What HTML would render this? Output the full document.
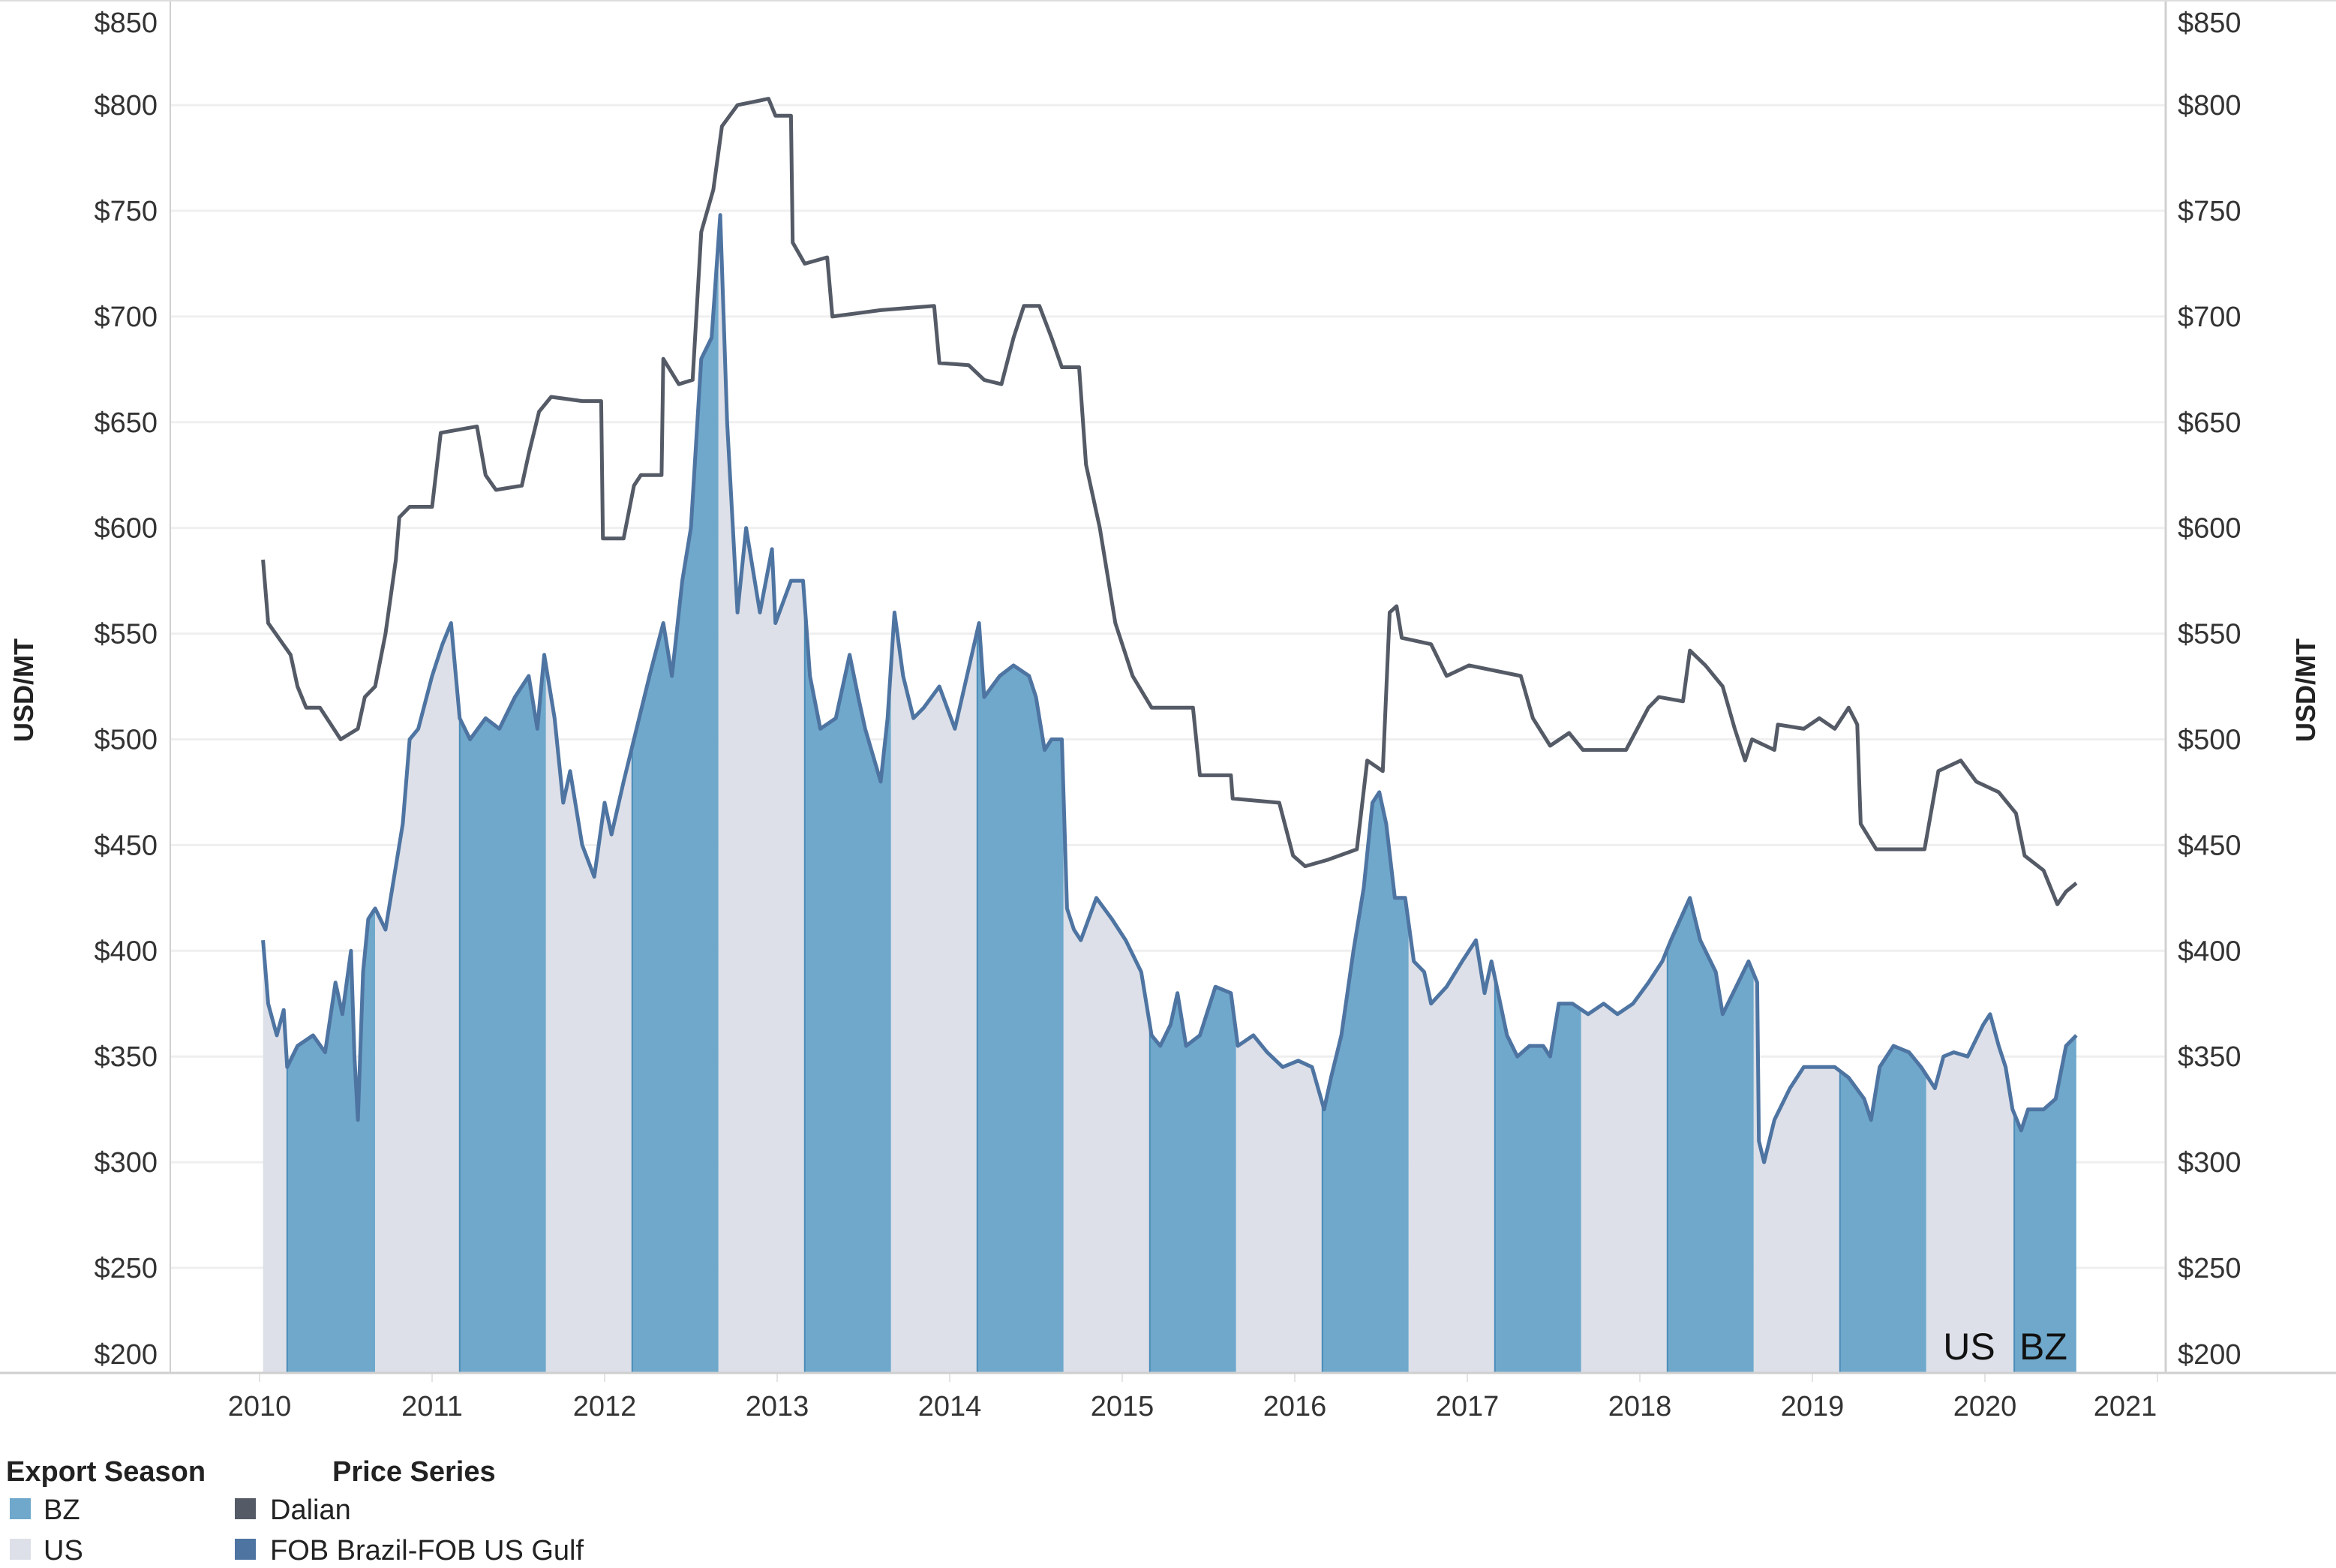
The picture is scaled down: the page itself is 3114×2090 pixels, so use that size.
<!DOCTYPE html>
<html><head><meta charset="utf-8"><style>
html,body{margin:0;padding:0;background:#fff;}
svg{display:block;font-family:"Liberation Sans",sans-serif;}
</style></head><body>
<svg id="chart" width="3114" height="2090" viewBox="0 0 3114 2090">
<defs id="defs"></defs>
<g id="grid"></g>
<g id="bands"></g>
<g id="lines"></g>
<g id="axes"></g>
<text x="2625" y="1812" font-size="50" text-anchor="middle" fill="#111">US</text>
<text x="2724" y="1812" font-size="50" text-anchor="middle" fill="#111">BZ</text>
<text transform="translate(44,920) rotate(-90)" font-size="36" font-weight="bold" text-anchor="middle" fill="#222">USD/MT</text>
<text transform="translate(3086,920) rotate(-90)" font-size="36" font-weight="bold" text-anchor="middle" fill="#222">USD/MT</text>
<g>
<text x="8" y="1974" font-size="38" font-weight="bold" fill="#222">Export Season</text>
<rect x="13" y="1997" width="28" height="28" fill="#6fa8cb"/>
<text x="58" y="2025" font-size="38" fill="#222">BZ</text>
<rect x="13" y="2051" width="28" height="28" fill="#dde0e8"/>
<text x="58" y="2079" font-size="38" fill="#222">US</text>
<text x="443" y="1974" font-size="38" font-weight="bold" fill="#222">Price Series</text>
<rect x="313" y="1997" width="28" height="28" fill="#555b66"/>
<text x="360" y="2025" font-size="38" fill="#222">Dalian</text>
<rect x="313" y="2051" width="28" height="28" fill="#4e74a2"/>
<text x="360" y="2079" font-size="38" fill="#222">FOB Brazil-FOB US Gulf</text>
</g>
</svg>
<script>
const yTicks=[200,250,300,350,400,450,500,550,600,650,700,750,800,850];
const yTickLabels=["$200","$250","$300","$350","$400","$450","$500","$550","$600","$650","$700","$750","$800","$850"];
const years=[2010,2011,2012,2013,2014,2015,2016,2017,2018,2019,2020,2021];
const seasonNames=["US","BZ","US","BZ","US","BZ","US","BZ","US","BZ","US","BZ","US","BZ","US","BZ","US","BZ","US","BZ","US","BZ"];
const seasonStart=[2010.02,2010.16,2010.67,2011.16,2011.66,2012.16,2012.66,2013.16,2013.66,2014.16,2014.66,2015.16,2015.66,2016.16,2016.66,2017.16,2017.66,2018.16,2018.66,2019.16,2019.66,2020.17];
const seasonEnd=[2010.16,2010.67,2011.16,2011.66,2012.16,2012.66,2013.16,2013.66,2014.16,2014.66,2015.16,2015.66,2016.16,2016.66,2017.16,2017.66,2018.16,2018.66,2019.16,2019.66,2020.17,2020.53];
const fobDates=[2010.02,2010.05,2010.10,2010.14,2010.16,2010.22,2010.31,2010.38,2010.44,2010.48,2010.53,2010.55,2010.57,2010.60,2010.63,2010.67,2010.73,2010.77,2010.83,2010.87,2010.92,2011.00,2011.06,2011.11,2011.16,2011.22,2011.31,2011.39,2011.48,2011.56,2011.61,2011.65,2011.71,2011.76,2011.80,2011.87,2011.94,2012.00,2012.04,2012.11,2012.17,2012.26,2012.34,2012.39,2012.45,2012.50,2012.56,2012.62,2012.67,2012.71,2012.77,2012.82,2012.86,2012.90,2012.97,2012.99,2013.08,2013.15,2013.19,2013.25,2013.34,2013.42,2013.47,2013.51,2013.60,2013.64,2013.68,2013.73,2013.79,2013.85,2013.94,2014.03,2014.10,2014.17,2014.20,2014.29,2014.37,2014.46,2014.50,2014.55,2014.59,2014.65,2014.68,2014.72,2014.76,2014.85,2014.94,2015.02,2015.11,2015.17,2015.22,2015.28,2015.32,2015.37,2015.45,2015.54,2015.63,2015.67,2015.76,2015.84,2015.93,2016.02,2016.10,2016.17,2016.21,2016.27,2016.34,2016.40,2016.45,2016.49,2016.53,2016.58,2016.64,2016.69,2016.75,2016.79,2016.88,2016.97,2017.05,2017.10,2017.14,2017.23,2017.29,2017.36,2017.44,2017.48,2017.53,2017.61,2017.70,2017.79,2017.87,2017.96,2018.05,2018.13,2018.18,2018.29,2018.35,2018.44,2018.48,2018.57,2018.63,2018.68,2018.69,2018.72,2018.78,2018.87,2018.95,2019.04,2019.13,2019.21,2019.30,2019.34,2019.39,2019.47,2019.56,2019.63,2019.67,2019.71,2019.76,2019.82,2019.90,2019.99,2020.03,2020.08,2020.12,2020.16,2020.21,2020.25,2020.34,2020.41,2020.47,2020.53];
const fobValues=[405,375,360,372,345,355,360,352,385,370,400,350,320,390,415,420,410,430,460,500,505,530,545,555,510,500,510,505,520,530,505,540,510,470,485,450,435,470,455,480,500,530,555,530,575,600,680,690,748,650,560,600,580,560,590,555,575,575,530,505,510,540,520,505,480,510,560,530,510,515,525,505,530,555,520,530,535,530,520,495,500,500,420,410,405,425,415,405,390,360,355,365,380,355,360,383,380,355,360,352,345,348,345,325,340,360,400,430,470,475,460,425,425,395,390,375,383,395,405,380,395,360,350,355,355,350,375,375,370,375,370,375,385,395,405,425,405,390,370,385,395,385,310,300,320,335,345,345,345,340,330,320,345,355,352,345,340,335,350,352,350,365,370,355,345,325,315,325,325,330,355,360];
const dalianDates=[2010.02,2010.05,2010.18,2010.22,2010.27,2010.35,2010.47,2010.57,2010.61,2010.67,2010.73,2010.79,2010.81,2010.87,2011.00,2011.05,2011.26,2011.31,2011.37,2011.52,2011.56,2011.62,2011.69,2011.87,2011.98,2011.99,2012.11,2012.17,2012.21,2012.33,2012.34,2012.43,2012.51,2012.56,2012.63,2012.68,2012.77,2012.95,2012.99,2013.08,2013.09,2013.16,2013.29,2013.32,2013.60,2013.91,2013.94,2014.11,2014.20,2014.30,2014.37,2014.43,2014.52,2014.59,2014.65,2014.75,2014.79,2014.87,2014.96,2015.06,2015.17,2015.41,2015.45,2015.63,2015.64,2015.91,2015.99,2016.06,2016.19,2016.36,2016.42,2016.51,2016.55,2016.59,2016.62,2016.79,2016.88,2017.01,2017.31,2017.38,2017.48,2017.59,2017.67,2017.92,2018.05,2018.11,2018.25,2018.29,2018.38,2018.48,2018.55,2018.61,2018.65,2018.78,2018.80,2018.95,2019.04,2019.13,2019.21,2019.26,2019.28,2019.37,2019.65,2019.73,2019.86,2019.95,2020.08,2020.18,2020.23,2020.34,2020.42,2020.47,2020.53];
const dalianValues=[585,555,540,525,515,515,500,505,520,525,550,585,605,610,610,645,648,625,618,620,635,655,662,660,660,595,595,620,625,625,680,668,670,740,760,790,800,803,795,795,735,725,728,700,703,705,678,677,670,668,690,705,705,690,676,676,630,600,555,530,515,515,483,483,472,470,445,440,443,448,490,485,560,563,548,545,530,535,530,510,497,503,495,495,515,520,518,542,535,525,505,490,500,495,507,505,510,505,515,507,460,448,448,485,490,480,475,465,445,438,422,428,432];

const NS="http://www.w3.org/2000/svg";
const X0=227,X1=2887,YB=1830;
function xs(t){return 346+230*(t-2010);}
function ys(v){return 1690-(v-250)*2.818;}
function mk(tag,attrs,parent){const e=document.createElementNS(NS,tag);for(const k in attrs)e.setAttribute(k,attrs[k]);parent.appendChild(e);return e;}
const grid=document.getElementById('grid'),axes=document.getElementById('axes'),bands=document.getElementById('bands'),lines=document.getElementById('lines'),defs=document.getElementById('defs');

yTicks.forEach((v,i)=>{
  if(v>200&&v<850){const g=mk('line',{x1:X0,x2:X1,y1:ys(v),y2:ys(v),stroke:'#efefef','stroke-width':3},grid);
  
  }
  let ty=ys(v)+13; if(v===850) ty=43; if(v===200) ty=1818;
  const l=mk('text',{x:210,y:ty,'font-size':38,'text-anchor':'end',fill:'#333'},axes);l.textContent=yTickLabels[i];
  
  
  const r=mk('text',{x:2903,y:ty,'font-size':38,'text-anchor':'start',fill:'#333'},axes);r.textContent=yTickLabels[i];
  
  
});
years.forEach(yr=>{
  const x=xs(yr);
  const t=mk('line',{x1:x,x2:x,y1:YB,y2:YB+12,stroke:'#e4e4e4','stroke-width':2},axes);
  
  
  const lx=yr===2021?2833:x;
  const l=mk('text',{x:lx,y:1887,'font-size':38,'text-anchor':'middle',fill:'#333'},axes);l.textContent=yr;
  
  
});

let pts=fobDates.map((d,i)=>xs(d).toFixed(1)+','+ys(fobValues[i]).toFixed(1));
const areaPts=xs(fobDates[0]).toFixed(1)+','+YB+' '+pts.join(' ')+' '+xs(fobDates[fobDates.length-1]).toFixed(1)+','+YB;
seasonNames.forEach((s,i)=>{
  const cp=mk('clipPath',{id:'cp'+i},defs);
  mk('rect',{x:xs(seasonStart[i]),y:0,width:xs(seasonEnd[i])-xs(seasonStart[i]),height:YB},cp);
  const p=mk('polygon',{points:areaPts,fill:s==='BZ'?'#6fa8cb':'#dde0e8','clip-path':'url(#cp'+i+')'},bands);
  
  
  if(s==='BZ'){
    const e=mk('line',{x1:xs(seasonStart[i]),x2:xs(seasonStart[i]),y1:YB,y2:0,stroke:'#4a8cb8','stroke-width':2,'clip-path':'url(#cpall)'},bands);
    
    
  }
});
const cpa=mk('clipPath',{id:'cpall'},defs);mk('polygon',{points:areaPts},cpa);

const dl=mk('polyline',{points:dalianDates.map((d,i)=>xs(d).toFixed(1)+','+ys(dalianValues[i]).toFixed(1)).join(' '),fill:'none',stroke:'#555b66','stroke-width':5,'stroke-linejoin':'round'},lines);


const fl=mk('polyline',{points:pts.join(' '),fill:'none',stroke:'#4e74a2','stroke-width':5,'stroke-linejoin':'round'},lines);



const a1=mk('line',{x1:0,x2:3114,y1:YB,y2:YB,stroke:'#cfcfcf','stroke-width':3},axes);


const a2=mk('line',{x1:X0,x2:X0,y1:0,y2:YB,stroke:'#d0d0d0','stroke-width':2},axes);


const a3=mk('line',{x1:X1,x2:X1,y1:0,y2:YB,stroke:'#d0d0d0','stroke-width':3},axes);


const a4=mk('line',{x1:0,x2:3114,y1:1,y2:1,stroke:'#dddddd','stroke-width':2},axes);


</script>
</body></html>
